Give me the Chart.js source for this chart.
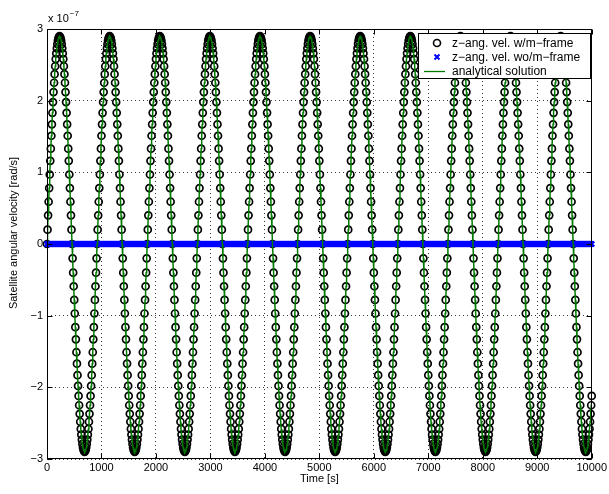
<!DOCTYPE html>
<html>
<head>
<meta charset="utf-8">
<title>Satellite angular velocity</title>
<script src="https://cdn.jsdelivr.net/npm/chart.js@4.4.1/dist/chart.umd.min.js"></script>
<style>
  html, body { margin: 0; padding: 0; background: #fff; }
  #wrap { width: 609px; height: 494px; }
</style>
</head>
<body>
<div id="wrap"><canvas id="chart1" width="609" height="494"></canvas></div>
<script>
//----------------- data -------------------------------------------

const sampleStep = 10;          // seconds between samples
const yUnit = 1e-7;             // axis multiplier (x 10^-7)
const xTicks = [0, 1000, 2000, 3000, 4000, 5000, 6000, 7000, 8000, 9000, 10000];
const yTicks = [-3, -2, -1, 0, 1, 2, 3];
const legendLabels = ['z\u2212ang. vel. w/m\u2212frame', 'z\u2212ang. vel. wo/m\u2212frame', 'analytical solution'];

// z angular velocity with m-frame, in 1e-7 rad/s, one line per ~920 s swing
const zVelMFrame = [
0,0.2,0.4,0.59,0.78,0.97,1.16,1.33,1.51,1.67,1.83,1.98,2.12,2.25,2.37,2.48,2.58,2.66,2.73,2.79,2.84,2.87,2.89,2.9,2.89,2.87,2.84,2.79,2.73,2.66,2.58,2.48,2.37,2.25,2.12,1.98,1.83,1.67,1.51,1.33,1.16,0.97,0.78,0.59,0.4,0.2,0,-0.2,-0.4,-0.59,-0.78,-0.97,-1.16,-1.33,-1.51,-1.67,-1.83,-1.98,-2.12,-2.25,-2.37,-2.48,-2.58,-2.66,-2.73,-2.79,-2.84,-2.87,-2.89,-2.9,-2.89,-2.87,-2.84,-2.79,-2.73,-2.66,-2.58,-2.48,-2.37,-2.25,-2.12,-1.98,-1.83,-1.67,-1.51,-1.33,-1.16,-0.97,-0.78,-0.59,-0.4,-0.2,
0,0.2,0.4,0.59,0.78,0.97,1.16,1.33,1.51,1.67,1.83,1.98,2.12,2.25,2.37,2.48,2.58,2.66,2.73,2.79,2.84,2.87,2.89,2.9,2.89,2.87,2.84,2.79,2.73,2.66,2.58,2.48,2.37,2.25,2.12,1.98,1.83,1.67,1.51,1.33,1.16,0.97,0.78,0.59,0.4,0.2,0,-0.2,-0.4,-0.59,-0.78,-0.97,-1.16,-1.33,-1.51,-1.67,-1.83,-1.98,-2.12,-2.25,-2.37,-2.48,-2.58,-2.66,-2.73,-2.79,-2.84,-2.87,-2.89,-2.9,-2.89,-2.87,-2.84,-2.79,-2.73,-2.66,-2.58,-2.48,-2.37,-2.25,-2.12,-1.98,-1.83,-1.67,-1.51,-1.33,-1.16,-0.97,-0.78,-0.59,-0.4,-0.2,
0,0.2,0.4,0.59,0.78,0.97,1.16,1.33,1.51,1.67,1.83,1.98,2.12,2.25,2.37,2.48,2.58,2.66,2.73,2.79,2.84,2.87,2.89,2.9,2.89,2.87,2.84,2.79,2.73,2.66,2.58,2.48,2.37,2.25,2.12,1.98,1.83,1.67,1.51,1.33,1.16,0.97,0.78,0.59,0.4,0.2,0,-0.2,-0.4,-0.59,-0.78,-0.97,-1.16,-1.33,-1.51,-1.67,-1.83,-1.98,-2.12,-2.25,-2.37,-2.48,-2.58,-2.66,-2.73,-2.79,-2.84,-2.87,-2.89,-2.9,-2.89,-2.87,-2.84,-2.79,-2.73,-2.66,-2.58,-2.48,-2.37,-2.25,-2.12,-1.98,-1.83,-1.67,-1.51,-1.33,-1.16,-0.97,-0.78,-0.59,-0.4,-0.2,
0,0.2,0.4,0.59,0.78,0.97,1.16,1.33,1.51,1.67,1.83,1.98,2.12,2.25,2.37,2.48,2.58,2.66,2.73,2.79,2.84,2.87,2.89,2.9,2.89,2.87,2.84,2.79,2.73,2.66,2.58,2.48,2.37,2.25,2.12,1.98,1.83,1.67,1.51,1.33,1.16,0.97,0.78,0.59,0.4,0.2,0,-0.2,-0.4,-0.59,-0.78,-0.97,-1.16,-1.33,-1.51,-1.67,-1.83,-1.98,-2.12,-2.25,-2.37,-2.48,-2.58,-2.66,-2.73,-2.79,-2.84,-2.87,-2.89,-2.9,-2.89,-2.87,-2.84,-2.79,-2.73,-2.66,-2.58,-2.48,-2.37,-2.25,-2.12,-1.98,-1.83,-1.67,-1.51,-1.33,-1.16,-0.97,-0.78,-0.59,-0.4,-0.2,
0,0.2,0.4,0.59,0.78,0.97,1.16,1.33,1.51,1.67,1.83,1.98,2.12,2.25,2.37,2.48,2.58,2.66,2.73,2.79,2.84,2.87,2.89,2.9,2.89,2.87,2.84,2.79,2.73,2.66,2.58,2.48,2.37,2.25,2.12,1.98,1.83,1.67,1.51,1.33,1.16,0.97,0.78,0.59,0.4,0.2,0,-0.2,-0.4,-0.59,-0.78,-0.97,-1.16,-1.33,-1.51,-1.67,-1.83,-1.98,-2.12,-2.25,-2.37,-2.48,-2.58,-2.66,-2.73,-2.79,-2.84,-2.87,-2.89,-2.9,-2.89,-2.87,-2.84,-2.79,-2.73,-2.66,-2.58,-2.48,-2.37,-2.25,-2.12,-1.98,-1.83,-1.67,-1.51,-1.33,-1.16,-0.97,-0.78,-0.59,-0.4,-0.2,
0,0.2,0.4,0.59,0.78,0.97,1.16,1.33,1.51,1.67,1.83,1.98,2.12,2.25,2.37,2.48,2.58,2.66,2.73,2.79,2.84,2.87,2.89,2.9,2.89,2.87,2.84,2.79,2.73,2.66,2.58,2.48,2.37,2.25,2.12,1.98,1.83,1.67,1.51,1.33,1.16,0.97,0.78,0.59,0.4,0.2,0,-0.2,-0.4,-0.59,-0.78,-0.97,-1.16,-1.33,-1.51,-1.67,-1.83,-1.98,-2.12,-2.25,-2.37,-2.48,-2.58,-2.66,-2.73,-2.79,-2.84,-2.87,-2.89,-2.9,-2.89,-2.87,-2.84,-2.79,-2.73,-2.66,-2.58,-2.48,-2.37,-2.25,-2.12,-1.98,-1.83,-1.67,-1.51,-1.33,-1.16,-0.97,-0.78,-0.59,-0.4,-0.2,
0,0.2,0.4,0.59,0.78,0.97,1.16,1.33,1.51,1.67,1.83,1.98,2.12,2.25,2.37,2.48,2.58,2.66,2.73,2.79,2.84,2.87,2.89,2.9,2.89,2.87,2.84,2.79,2.73,2.66,2.58,2.48,2.37,2.25,2.12,1.98,1.83,1.67,1.51,1.33,1.16,0.97,0.78,0.59,0.4,0.2,0,-0.2,-0.4,-0.59,-0.78,-0.97,-1.16,-1.33,-1.51,-1.67,-1.83,-1.98,-2.12,-2.25,-2.37,-2.48,-2.58,-2.66,-2.73,-2.79,-2.84,-2.87,-2.89,-2.9,-2.89,-2.87,-2.84,-2.79,-2.73,-2.66,-2.58,-2.48,-2.37,-2.25,-2.12,-1.98,-1.83,-1.67,-1.51,-1.33,-1.16,-0.97,-0.78,-0.59,-0.4,-0.2,
0,0.2,0.4,0.59,0.78,0.97,1.16,1.33,1.51,1.67,1.83,1.98,2.12,2.25,2.37,2.48,2.58,2.66,2.73,2.79,2.84,2.87,2.89,2.9,2.89,2.87,2.84,2.79,2.73,2.66,2.58,2.48,2.37,2.25,2.12,1.98,1.83,1.67,1.51,1.33,1.16,0.97,0.78,0.59,0.4,0.2,0,-0.2,-0.4,-0.59,-0.78,-0.97,-1.16,-1.33,-1.51,-1.67,-1.83,-1.98,-2.12,-2.25,-2.37,-2.48,-2.58,-2.66,-2.73,-2.79,-2.84,-2.87,-2.89,-2.9,-2.89,-2.87,-2.84,-2.79,-2.73,-2.66,-2.58,-2.48,-2.37,-2.25,-2.12,-1.98,-1.83,-1.67,-1.51,-1.33,-1.16,-0.97,-0.78,-0.59,-0.4,-0.2,
0,0.2,0.4,0.59,0.78,0.97,1.16,1.33,1.51,1.67,1.83,1.98,2.12,2.25,2.37,2.48,2.58,2.66,2.73,2.79,2.84,2.87,2.89,2.9,2.89,2.87,2.84,2.79,2.73,2.66,2.58,2.48,2.37,2.25,2.12,1.98,1.83,1.67,1.51,1.33,1.16,0.97,0.78,0.59,0.4,0.2,0,-0.2,-0.4,-0.59,-0.78,-0.97,-1.16,-1.33,-1.51,-1.67,-1.83,-1.98,-2.12,-2.25,-2.37,-2.48,-2.58,-2.66,-2.73,-2.79,-2.84,-2.87,-2.89,-2.9,-2.89,-2.87,-2.84,-2.79,-2.73,-2.66,-2.58,-2.48,-2.37,-2.25,-2.12,-1.98,-1.83,-1.67,-1.51,-1.33,-1.16,-0.97,-0.78,-0.59,-0.4,-0.2,
0,0.2,0.4,0.59,0.78,0.97,1.16,1.33,1.51,1.67,1.83,1.98,2.12,2.25,2.37,2.48,2.58,2.66,2.73,2.79,2.84,2.87,2.89,2.9,2.89,2.87,2.84,2.79,2.73,2.66,2.58,2.48,2.37,2.25,2.12,1.98,1.83,1.67,1.51,1.33,1.16,0.97,0.78,0.59,0.4,0.2,0,-0.2,-0.4,-0.59,-0.78,-0.97,-1.16,-1.33,-1.51,-1.67,-1.83,-1.98,-2.12,-2.25,-2.37,-2.48,-2.58,-2.66,-2.73,-2.79,-2.84,-2.87,-2.89,-2.9,-2.89,-2.87,-2.84,-2.79,-2.73,-2.66,-2.58,-2.48,-2.37,-2.25,-2.12,-1.98,-1.83,-1.67,-1.51,-1.33,-1.16,-0.97,-0.78,-0.59,-0.4,-0.2,
0,0.2,0.4,0.59,0.78,0.97,1.16,1.33,1.51,1.67,1.83,1.98,2.12,2.25,2.37,2.48,2.58,2.66,2.73,2.79,2.84,2.87,2.89,2.9,2.89,2.87,2.84,2.79,2.73,2.66,2.58,2.48,2.37,2.25,2.12,1.98,1.83,1.67,1.51,1.33,1.16,0.97,0.78,0.59,0.4,0.2,0,-0.2,-0.4,-0.59,-0.78,-0.97,-1.16,-1.33,-1.51,-1.67,-1.83,-1.98,-2.12,-2.25,-2.37,-2.48,-2.58,-2.66,-2.73,-2.79,-2.84,-2.87,-2.89,-2.9,-2.89,-2.87,-2.84,-2.79,-2.73,-2.66,-2.58,-2.48,-2.37,-2.25,-2.12
];

// z angular velocity without m-frame: sits on zero the whole run
const zVelNoMFrame = [
0,0,0,0,0,0,0,0,0,0, 0,0,0,0,0,0,0,0,0,0, 0,0,0,0,0,0,0,0,0,0, 0,0,0,0,0,0,0,0,0,0, 0,0,0,0,0,0,0,0,0,0, 0,0,0,0,0,0,0,0,0,0, 0,0,0,0,0,0,0,0,0,0, 0,0,0,0,0,0,0,0,0,0, 0,0,0,0,0,0,0,0,0,0, 0,0,0,0,0,0,0,0,0,0,
0,0,0,0,0,0,0,0,0,0, 0,0,0,0,0,0,0,0,0,0, 0,0,0,0,0,0,0,0,0,0, 0,0,0,0,0,0,0,0,0,0, 0,0,0,0,0,0,0,0,0,0, 0,0,0,0,0,0,0,0,0,0, 0,0,0,0,0,0,0,0,0,0, 0,0,0,0,0,0,0,0,0,0, 0,0,0,0,0,0,0,0,0,0, 0,0,0,0,0,0,0,0,0,0,
0,0,0,0,0,0,0,0,0,0, 0,0,0,0,0,0,0,0,0,0, 0,0,0,0,0,0,0,0,0,0, 0,0,0,0,0,0,0,0,0,0, 0,0,0,0,0,0,0,0,0,0, 0,0,0,0,0,0,0,0,0,0, 0,0,0,0,0,0,0,0,0,0, 0,0,0,0,0,0,0,0,0,0, 0,0,0,0,0,0,0,0,0,0, 0,0,0,0,0,0,0,0,0,0,
0,0,0,0,0,0,0,0,0,0, 0,0,0,0,0,0,0,0,0,0, 0,0,0,0,0,0,0,0,0,0, 0,0,0,0,0,0,0,0,0,0, 0,0,0,0,0,0,0,0,0,0, 0,0,0,0,0,0,0,0,0,0, 0,0,0,0,0,0,0,0,0,0, 0,0,0,0,0,0,0,0,0,0, 0,0,0,0,0,0,0,0,0,0, 0,0,0,0,0,0,0,0,0,0,
0,0,0,0,0,0,0,0,0,0, 0,0,0,0,0,0,0,0,0,0, 0,0,0,0,0,0,0,0,0,0, 0,0,0,0,0,0,0,0,0,0, 0,0,0,0,0,0,0,0,0,0, 0,0,0,0,0,0,0,0,0,0, 0,0,0,0,0,0,0,0,0,0, 0,0,0,0,0,0,0,0,0,0, 0,0,0,0,0,0,0,0,0,0, 0,0,0,0,0,0,0,0,0,0,
0,0,0,0,0,0,0,0,0,0, 0,0,0,0,0,0,0,0,0,0, 0,0,0,0,0,0,0,0,0,0, 0,0,0,0,0,0,0,0,0,0, 0,0,0,0,0,0,0,0,0,0, 0,0,0,0,0,0,0,0,0,0, 0,0,0,0,0,0,0,0,0,0, 0,0,0,0,0,0,0,0,0,0, 0,0,0,0,0,0,0,0,0,0, 0,0,0,0,0,0,0,0,0,0,
0,0,0,0,0,0,0,0,0,0, 0,0,0,0,0,0,0,0,0,0, 0,0,0,0,0,0,0,0,0,0, 0,0,0,0,0,0,0,0,0,0, 0,0,0,0,0,0,0,0,0,0, 0,0,0,0,0,0,0,0,0,0, 0,0,0,0,0,0,0,0,0,0, 0,0,0,0,0,0,0,0,0,0, 0,0,0,0,0,0,0,0,0,0, 0,0,0,0,0,0,0,0,0,0,
0,0,0,0,0,0,0,0,0,0, 0,0,0,0,0,0,0,0,0,0, 0,0,0,0,0,0,0,0,0,0, 0,0,0,0,0,0,0,0,0,0, 0,0,0,0,0,0,0,0,0,0, 0,0,0,0,0,0,0,0,0,0, 0,0,0,0,0,0,0,0,0,0, 0,0,0,0,0,0,0,0,0,0, 0,0,0,0,0,0,0,0,0,0, 0,0,0,0,0,0,0,0,0,0,
0,0,0,0,0,0,0,0,0,0, 0,0,0,0,0,0,0,0,0,0, 0,0,0,0,0,0,0,0,0,0, 0,0,0,0,0,0,0,0,0,0, 0,0,0,0,0,0,0,0,0,0, 0,0,0,0,0,0,0,0,0,0, 0,0,0,0,0,0,0,0,0,0, 0,0,0,0,0,0,0,0,0,0, 0,0,0,0,0,0,0,0,0,0, 0,0,0,0,0,0,0,0,0,0,
0,0,0,0,0,0,0,0,0,0, 0,0,0,0,0,0,0,0,0,0, 0,0,0,0,0,0,0,0,0,0, 0,0,0,0,0,0,0,0,0,0, 0,0,0,0,0,0,0,0,0,0, 0,0,0,0,0,0,0,0,0,0, 0,0,0,0,0,0,0,0,0,0, 0,0,0,0,0,0,0,0,0,0, 0,0,0,0,0,0,0,0,0,0, 0,0,0,0,0,0,0,0,0,0,
0
];

// the analytical curve runs through the m-frame samples
const zVelAnalytical = zVelMFrame;


//----------------- helpers -------------------------

const fontFamily = '"Liberation Sans", Arial, Helvetica, sans-serif';

function toPoints(values) {
    return values.map((v, i) => ({ x: i * sampleStep, y: v * yUnit }));
}

function tickText(n) {
    return n < 0 ? '\u2212' + (-n) : String(n);
}

// axes box, inward ticks, labels and legend drawn the way matlab does them
const matlabFrame = {
    id: 'matlabFrame',
    afterDatasetsDraw(chart) {
        const { ctx, chartArea: a, scales } = chart;
        const L = Math.round(a.left) + 0.5, R = Math.round(a.right) - 0.5;
        const T = Math.round(a.top) + 0.5, B = Math.round(a.bottom) - 0.5;
        ctx.save();
        ctx.strokeStyle = '#000';
        ctx.lineWidth = 1;
        ctx.setLineDash([]);
        ctx.strokeRect(L, T, R - L, B - T);

        ctx.beginPath();
        xTicks.forEach(v => {
            const px = Math.round(scales.x.getPixelForValue(v)) + 0.5;
            ctx.moveTo(px, B); ctx.lineTo(px, B - 5);
            ctx.moveTo(px, T); ctx.lineTo(px, T + 5);
        });
        yTicks.forEach(v => {
            const py = Math.round(scales.y.getPixelForValue(v * yUnit)) + 0.5;
            ctx.moveTo(L, py); ctx.lineTo(L + 5, py);
            ctx.moveTo(R, py); ctx.lineTo(R - 5, py);
        });
        ctx.stroke();

        // multiplier above the y axis
        ctx.fillStyle = '#000';
        ctx.textBaseline = 'alphabetic';
        ctx.textAlign = 'left';
        ctx.font = '11px ' + fontFamily;
        ctx.fillText('x 10', 48, 22);
        const w = ctx.measureText('x 10').width;
        ctx.font = '8px ' + fontFamily;
        ctx.fillText('\u22127', 48 + w + 1, 16);

        // axis titles
        ctx.font = '11px ' + fontFamily;
        ctx.textBaseline = 'middle';
        ctx.textAlign = 'center';
        ctx.fillText('Time [s]', (a.left + a.right) / 2, 479);
        ctx.save();
        ctx.translate(14, 233);
        ctx.rotate(-Math.PI / 2);
        ctx.fillText('Satellite angular velocity [rad/s]', 0, 0);
        ctx.restore();

        // legend
        const lx = 418.5, ly = 33.5, lw = 172, lh = 45;
        ctx.fillStyle = '#fff';
        ctx.fillRect(lx, ly, lw, lh);
        ctx.strokeRect(lx, ly, lw, lh);
        const rows = [43, 57, 71];
        const mx = 437;
        ctx.lineWidth = 1.6;
        ctx.strokeStyle = '#000';
        ctx.beginPath();
        ctx.arc(mx, rows[0], 3.5, 0, Math.PI * 2);
        ctx.stroke();
        ctx.strokeStyle = '#0000ff';
        ctx.lineWidth = 2;
        ctx.beginPath();
        ctx.moveTo(mx - 2.5, rows[1] - 2.5); ctx.lineTo(mx + 2.5, rows[1] + 2.5);
        ctx.moveTo(mx + 2.5, rows[1] - 2.5); ctx.lineTo(mx - 2.5, rows[1] + 2.5);
        ctx.stroke();
        ctx.strokeStyle = '#007a00';
        ctx.lineWidth = 1.3;
        ctx.beginPath();
        ctx.moveTo(424, rows[2] + 0.5); ctx.lineTo(445, rows[2] + 0.5);
        ctx.stroke();
        ctx.fillStyle = '#000';
        ctx.font = '12px ' + fontFamily;
        ctx.textAlign = 'left';
        legendLabels.forEach((t, i) => ctx.fillText(t, 452, rows[i] + 0.5));
        ctx.restore();
    }
};


// --------Create chart----------

const config = {
    type: 'scatter',
    data: {
        datasets: [
            {
                label: legendLabels[2],
                data: toPoints(zVelAnalytical),
                showLine: true,
                borderColor: '#007a00',
                borderWidth: 1.5,
                pointRadius: 0,
                order: 0
            },
            {
                label: legendLabels[1],
                data: toPoints(zVelNoMFrame),
                pointStyle: 'crossRot',
                pointRadius: 3.6,
                borderColor: '#0000ff',
                borderWidth: 2.2,
                clip: false,
                order: 1
            },
            {
                label: legendLabels[0],
                data: toPoints(zVelMFrame),
                pointStyle: 'circle',
                pointRadius: 3.5,
                borderColor: '#000',
                backgroundColor: 'rgba(0,0,0,0)',
                borderWidth: 1.7,
                clip: false,
                order: 2
            }
        ]
    },
    options: {
        responsive: false,
        animation: false,
        devicePixelRatio: 1,
        events: [],
        layout: { padding: { top: 29, right: 15, left: 0, bottom: 0 } },
        plugins: { legend: { display: false }, tooltip: { enabled: false } },
        scales: {
            x: {
                type: 'linear',
                min: 0,
                max: 10000,
                afterBuildTicks: s => { s.ticks = xTicks.map(v => ({ value: v })); },
                afterFit: s => { s.height = 35; },
                grid: { color: 'rgba(0,0,0,0.8)', lineWidth: 1, drawTicks: false },
                border: { display: false, dash: [1, 3] },
                ticks: {
                    color: '#000',
                    font: { family: fontFamily, size: 11 },
                    padding: 2,
                    maxRotation: 0,
                    autoSkip: false,
                    callback: v => String(v)
                }
            },
            y: {
                type: 'linear',
                min: yTicks[0] * yUnit,
                max: yTicks[yTicks.length - 1] * yUnit,
                afterBuildTicks: s => { s.ticks = yTicks.map(v => ({ value: v * yUnit })); },
                afterFit: s => { s.width = 47; },
                grid: { color: 'rgba(0,0,0,0.8)', lineWidth: 1, drawTicks: false },
                border: { display: false, dash: [1, 3] },
                ticks: {
                    color: '#000',
                    font: { family: fontFamily, size: 11 },
                    padding: 4,
                    autoSkip: false,
                    callback: v => tickText(Math.round(v / yUnit))
                }
            }
        }
    },
    plugins: [matlabFrame]
};

const myChart = new Chart(document.getElementById('chart1').getContext('2d'), config);
</script>
</body>
</html>
